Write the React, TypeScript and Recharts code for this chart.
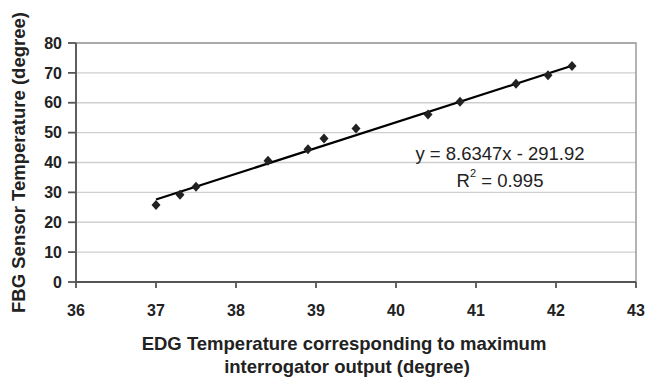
import React from "react";
import {
  ScatterChart,
  Scatter,
  XAxis,
  YAxis,
  CartesianGrid,
  ReferenceLine,
  ReferenceArea,
  ReferenceDot,
} from "recharts";

const edgTemp = [37.0, 37.3, 37.5, 38.4, 38.9, 39.1, 39.5, 40.4, 40.8, 41.5, 41.9, 42.2];
const fbgTemp = [25.8, 29.2, 31.9, 40.6, 44.4, 48.0, 51.4, 56.1, 60.3, 66.4, 69.2, 72.3];
const trendX = [37.0, 42.2];
const trendY = [27.6, 72.4];
const xTicks = [36, 37, 38, 39, 40, 41, 42, 43];
const yTicks = [0, 10, 20, 30, 40, 50, 60, 70, 80];
const equation = "y = 8.6347x - 291.92";
const rSquared = "0.995";

const points = edgTemp.map((x, i) => ({ x, y: fbgTemp[i] }));
const trendSegment = trendX.map((x, i) => ({ x, y: trendY[i] }));

const FONT = "'Liberation Sans', Arial, sans-serif";

const Diamond = (props: any) => {
  const { cx, cy } = props;
  const r = 5;
  return (
    <polygon
      points={`${cx},${cy - r} ${cx + r - 0.5},${cy} ${cx},${cy + r} ${cx - r + 0.5},${cy}`}
      fill="#222"
    />
  );
};

const XTitle = (props: any) => {
  const vb = props.viewBox;
  const cx = vb.x + vb.width / 2 - 9;
  return (
    <g fontFamily={FONT} fontSize={18.5} fontWeight="bold" fill="#222" textAnchor="middle">
      <text x={cx - 3} y={vb.y + 61} dominantBaseline="central">
        EDG Temperature corresponding to maximum
      </text>
      <text x={cx} y={vb.y + 84} dominantBaseline="central">
        interrogator output (degree)
      </text>
    </g>
  );
};

const YTitle = (props: any) => {
  const vb = props.viewBox;
  const cy = vb.y + vb.height / 2;
  return (
    <text
      x={18}
      y={cy}
      transform={`rotate(-90, 18, ${cy})`}
      textAnchor="middle"
      dominantBaseline="central"
      fontFamily={FONT}
      fontSize={18.5}
      fontWeight="bold"
      fill="#222"
    >
      FBG Sensor Temperature (degree)
    </text>
  );
};

const EquationLabel = (props: any) => {
  const vb = props.viewBox;
  const cx = vb.x + (vb.width || 0) / 2;
  const cy = vb.y + (vb.height || 0) / 2;
  return (
    <g fontFamily={FONT} fontSize={18.5} fill="#222" textAnchor="middle">
      <text x={cx} y={cy} dominantBaseline="central">
        {equation}
      </text>
      <text x={cx} y={cy + 27} dominantBaseline="central">
        R<tspan dy={-7} fontSize={11}>2</tspan>
        <tspan dy={7}>{` = ${rSquared}`}</tspan>
      </text>
    </g>
  );
};

export default function App() {
  return (
    <div style={{ position: "absolute", left: 0, top: 0, background: "#fff" }}>
      <ScatterChart width={647} height={379} margin={{ top: 43, right: 11, bottom: 67, left: 0 }}>
        <CartesianGrid vertical={false} stroke="#cfcfcf" strokeWidth={1.3} />
        <ReferenceArea x1={36} x2={43} y1={0} y2={80} fill="none" stroke="#9a9a9a" strokeWidth={1.5} />
        <XAxis
          type="number"
          dataKey="x"
          domain={[36, 43]}
          ticks={xTicks}
          interval={0}
          height={30}
          tickSize={6}
          tickMargin={17}
          stroke="#555"
          strokeWidth={1.8}
          tick={{ fill: "#222", fontSize: 16, fontWeight: "bold", fontFamily: FONT }}
          label={{ content: XTitle }}
        />
        <YAxis
          type="number"
          dataKey="y"
          domain={[0, 80]}
          ticks={yTicks}
          interval={0}
          width={76}
          tickSize={8}
          tickMargin={6}
          stroke="#555"
          strokeWidth={1.8}
          tick={{ fill: "#222", fontSize: 16, fontWeight: "bold", fontFamily: FONT }}
          label={{ content: YTitle }}
        />
        <ReferenceLine
          segment={trendSegment}
          stroke="#000"
          strokeWidth={2.2}
        />
        <Scatter data={points} shape={Diamond} isAnimationActive={false} />
        <ReferenceDot x={41.3} y={43.1} r={0} stroke="none" fill="none" label={{ content: EquationLabel }} />
      </ScatterChart>
    </div>
  );
}
